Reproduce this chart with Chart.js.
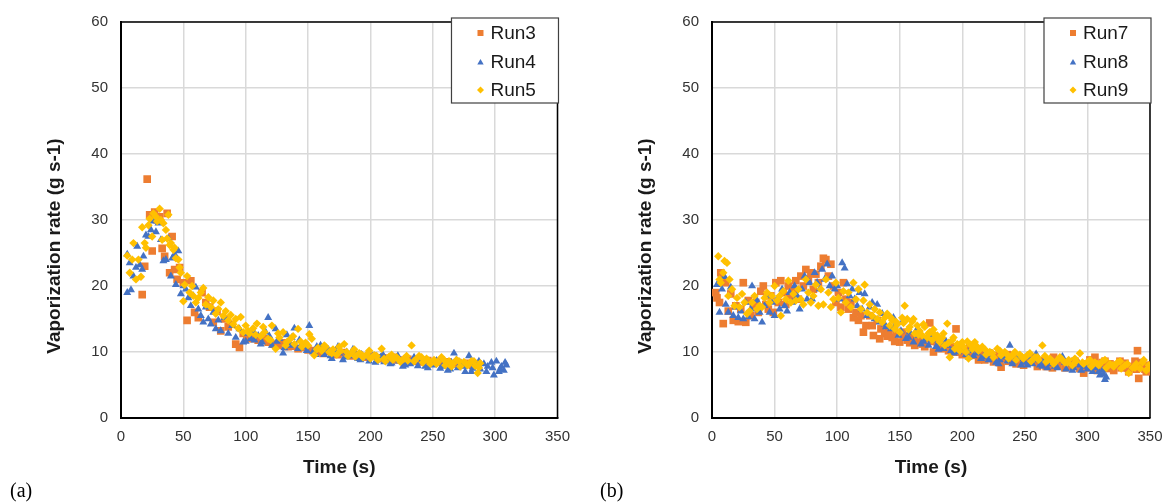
<!DOCTYPE html>
<html>
<head>
<meta charset="utf-8">
<script src="https://cdn.jsdelivr.net/npm/chart.js@4.4.1/dist/chart.umd.min.js"></script>
<style>
  body { margin: 0; background: #fff; }
  #wrap { position: relative; width: 1165px; height: 502px; overflow: hidden; }
  canvas { position: absolute; top: 0; }
  .tag { position: absolute; top: 480px; line-height: 20px; font-family: "Liberation Serif", serif; font-size: 20px; color: #000; }
</style>
</head>
<body>
<div id="wrap">
  <canvas id="chartA" width="580" height="502" style="left:0"></canvas>
  <canvas id="chartB" width="600" height="502" style="left:580px"></canvas>
  <div class="tag" style="left:10px">(a)</div>
  <div class="tag" style="left:600px">(b)</div>
</div>
<script>
// tick labels
var xTickValues = [0, 50, 100, 150, 200, 250, 300, 350];
var yTickValues = [0, 10, 20, 30, 40, 50, 60];
var xTitle = "Time (s)";
var yTitle = "Vaporization rate (g s-1)";

// series names
var namesA = ["Run3", "Run4", "Run5"];
var namesB = ["Run7", "Run8", "Run9"];

// [time (s), rate (g/s)]
var run3 = [[17,18.7],[19,23.0],[21,36.2],[23,30.8],[25,25.3],[27,31.2],[29,30.0],[31,30.5],[33,25.7],[35,24.5],
  [37,31.0],[39,22.0],[41,27.5],[43,22.5],[45,21.0],[47,22.8],[50,20.5],[53,14.8],[56,20.8],[59,16.0],
  [62,15.2],[65,19.0],[68,17.5],[71,16.8],[74,14.5],[77,16.2],[80,13.2],[83,15.0],[86,13.8],[89,14.2],
  [92,11.2],[95,10.7],[98,12.8],[101,12.5],[104,12.0],[107,12.3],[110,11.8],[114,12.0],[118,11.5],[122,11.2],
  [126,11.0],[130,11.4],[134,10.8],[138,10.9],[142,10.5],[146,10.7],[150,10.3],[154,10.2],[158,10.0],[162,9.8],
  [166,10.1],[170,9.7],[174,9.6],[178,9.9],[182,9.5],[186,9.4],[190,9.6],[194,9.3],[198,9.2],[202,9.4],
  [206,9.0],[210,9.1],[214,8.9],[218,9.2],[222,8.8],[226,8.7],[230,8.9],[234,8.6],[238,8.8],[242,8.5],
  [246,8.7],[250,8.4],[254,8.6],[258,8.3],[262,8.5],[266,8.2],[270,8.4],[274,8.1],[278,8.3],[282,8.0],[286,8.2]];

var run4 = [[5,19.0],[5,24.8],[7,23.5],[8,19.4],[10,21.5],[12,22.8],[13,26.0],[15,23.2],[17,22.5],[18,24.5],
  [20,27.7],[22,27.5],[24,28.5],[26,29.8],[28,28.2],[30,29.5],[32,27.0],[34,23.8],[36,24.0],[38,27.2],
  [40,21.5],[41,24.2],[43,24.8],[44,20.2],[46,25.3],[48,18.8],[50,20.0],[52,19.5],[54,18.2],[56,17.0],
  [58,18.5],[60,19.8],[62,16.5],[64,15.5],[66,14.5],[68,16.8],[70,15.0],[72,14.2],[74,16.0],[76,13.5],
  [78,14.8],[80,13.2],[83,15.2],[86,12.8],[89,14.0],[92,12.2],[95,13.5],[98,11.5],[101,12.8],[104,12.0],
  [107,11.8],[110,12.5],[113,11.5],[116,13.0],[118,15.2],[121,11.0],[124,13.5],[127,12.0],[130,9.8],[133,12.6],
  [136,11.0],[139,13.6],[142,10.5],[145,11.2],[148,10.8],[151,14.0],[154,10.0],[157,10.8],[160,11.0],[163,9.6],
  [166,10.4],[169,9.0],[172,10.2],[175,9.8],[178,8.8],[181,10.0],[184,9.4],[187,9.8],[190,9.0],[193,9.6],
  [196,9.2],[199,8.6],[202,9.4],[205,8.8],[208,9.2],[211,8.5],[214,9.0],[217,8.3],[220,8.9],[223,8.6],
  [226,7.8],[229,8.8],[232,8.2],[235,9.2],[238,7.9],[241,8.5],[244,7.8],[247,8.6],[250,8.0],[253,8.7],
  [256,7.5],[259,8.2],[262,7.2],[265,8.4],[267,9.8],[270,7.6],[273,8.2],[276,7.0],[279,9.4],[282,7.5],
  [285,8.0],[288,7.4],[291,8.2],[294,7.8],[297,8.4],[299,6.5],[301,8.6],[303,7.0],[305,7.8],[307,7.2],[309,8.0],
  [100,11.6],[106,13.2],[112,11.2],[119,12.4],[125,11.6],[131,10.6],[137,12.2],[143,11.8],[149,10.2],[156,9.6],
  [162,10.6],[168,9.4],[174,10.8],[180,9.2],[186,10.4],[192,8.8],[198,9.8],[204,8.4],[210,9.6],[216,8.2],
  [222,9.4],[228,8.0],[234,8.6],[240,9.0],[246,7.6],[252,8.4],[258,7.8],[264,7.4],[269,8.8],[275,7.8],
  [281,7.0],[287,8.6],[293,7.0],[298,7.6],[304,7.4],[308,8.4]];

var run5 = [[5,24.6],[7,22.0],[9,24.0],[10,26.5],[12,21.0],[14,24.0],[16,21.4],[17,28.9],[19,26.5],[20,25.8],
  [22,29.2],[23,30.2],[25,27.5],[26,31.0],[28,30.5],[29,29.8],[31,31.7],[32,30.0],[33,27.0],[34,29.5],
  [36,28.5],[37,27.2],[38,30.8],[39,26.2],[40,26.5],[42,25.5],[43,25.8],[44,24.2],[46,24.0],[47,22.8],
  [48,22.0],[50,17.7],[51,20.2],[53,21.5],[55,19.0],[57,20.0],[58,18.5],[60,17.5],[62,18.2],[64,19.0],
  [66,19.7],[68,17.2],[70,18.3],[72,16.8],[74,17.8],[76,15.8],[78,16.5],[80,17.5],[82,15.5],[84,16.2],
  [86,14.8],[88,15.6],[90,14.2],[92,15.0],[94,13.6],[96,15.3],[98,13.0],[100,14.0],[103,12.8],[106,13.6],
  [109,14.3],[112,12.4],[115,13.0],[118,12.0],[121,14.0],[124,10.5],[127,12.2],[130,13.0],[133,11.5],[136,12.0],
  [139,11.2],[142,13.5],[145,10.8],[148,11.4],[151,12.7],[153,12.0],[155,9.5],[158,10.6],[161,10.2],[164,10.8],
  [167,10.0],[170,10.4],[173,9.6],[176,10.2],[179,11.2],[182,9.4],[185,9.9],[188,9.3],[191,9.8],[194,9.2],
  [197,9.6],[200,9.0],[203,9.5],[206,8.8],[209,10.5],[212,8.6],[215,9.3],[218,8.8],[221,9.2],[224,8.5],
  [227,9.0],[230,8.7],[233,11.0],[236,8.8],[239,9.4],[242,8.4],[245,9.0],[248,8.2],[251,8.8],[254,8.5],
  [257,9.2],[260,8.0],[263,8.6],[266,8.2],[269,8.8],[272,7.8],[275,8.5],[278,8.0],[281,8.6],[284,7.9],[286,6.8],[288,8.3],
  [102,13.2],[108,12.6],[114,13.8],[120,11.8],[126,12.8],[132,11.0],[138,12.4],[144,11.6],[150,11.0],[157,10.4],
  [163,11.0],[169,9.8],[175,10.8],[181,10.0],[187,10.4],[193,9.6],[199,10.2],[205,9.4],[211,9.0],[217,9.6],
  [223,8.8],[229,9.4],[235,8.6],[241,9.2],[247,8.6],[253,8.2],[259,8.8],[265,7.8],[271,8.6],[277,8.2],
  [283,8.6],[287,7.6]];

var run7 = [[3,19.0],[4,18.2],[6,17.5],[7,22.0],[8,21.5],[9,14.3],[11,20.5],[13,16.2],[15,18.8],[17,14.8],
  [19,17.0],[21,14.6],[23,16.5],[25,20.5],[27,14.5],[29,17.8],[31,15.5],[33,16.8],[35,17.5],[37,16.0],
  [39,19.2],[41,20.0],[43,17.2],[45,16.5],[47,18.5],[49,16.0],[51,20.5],[53,17.5],[55,20.8],[57,19.0],
  [59,17.2],[61,20.0],[63,18.5],[65,19.5],[67,20.8],[69,18.0],[71,21.5],[73,20.0],[75,22.5],[77,21.0],
  [79,22.0],[81,19.5],[83,21.8],[85,20.5],[87,23.0],[89,24.2],[91,24.0],[93,21.5],[95,23.3],[97,20.0],
  [99,17.5],[101,19.0],[103,16.8],[105,20.5],[107,18.0],[109,16.5],[111,17.5],[113,15.2],[115,16.0],[117,14.8],
  [119,15.5],[121,13.0],[123,14.0],[126,15.5],[129,12.5],[132,14.8],[135,13.5],[138,12.8],[141,13.2],[144,12.2],
  [147,12.8],[150,11.5],[153,12.5],[156,11.8],[159,12.2],[162,11.0],[165,11.8],[168,11.2],[171,12.0],[174,14.4],
  [177,10.0],[180,11.5],[183,10.5],[186,11.0],[189,10.2],[192,10.8],[195,13.5],[198,10.0],[201,10.5],[204,9.8],
  [207,10.2],[210,9.5],[213,8.8],[216,10.0],[219,9.3],[222,9.8],[225,8.5],[228,9.5],[231,7.7],[234,9.0],
  [237,8.6],[240,9.4],[243,8.2],[246,9.0],[249,8.0],[252,8.8],[255,8.5],[258,9.0],[261,8.2],[264,8.7],
  [267,7.8],[270,8.5],[273,9.2],[276,8.0],[279,8.6],[282,7.6],[285,8.4],[288,7.8],[291,8.3],[294,7.5],
  [297,6.8],[300,8.2],[303,7.6],[306,9.2],[309,7.8],[312,8.4],[315,7.5],[318,8.2],[321,7.2],[324,8.0],
  [327,7.6],[330,8.3],[333,7.0],[336,7.8],[339,7.4],[340,10.2],[341,6.0],[344,7.8],[347,7.0],[349,8.0],
  [128,14.0],[134,12.0],[140,12.4],[146,11.6],[152,13.0],[158,11.4],[164,12.4],[170,10.8],[176,11.6],[182,12.0],
  [188,10.6],[194,10.0],[200,9.6],[206,10.8],[212,9.6],[218,8.8],[224,9.0],[230,8.4],[236,9.6],[242,8.8],
  [248,8.4],[254,9.2],[260,7.8],[266,8.2],[272,7.6],[278,8.8],[284,7.8],[290,8.6],[296,7.8],[302,8.8],
  [308,7.2],[314,8.6],[320,7.8],[326,8.6],[332,7.6],[338,8.6],[343,8.4],[346,7.4],[350,7.8]];

var run8 = [[4,20.2],[6,16.0],[8,19.5],[10,21.4],[11,17.2],[13,16.0],[15,19.8],[17,15.5],[19,16.8],[21,15.2],
  [23,16.2],[25,15.0],[27,17.5],[29,15.3],[31,16.5],[32,20.0],[34,15.0],[36,17.8],[38,16.0],[40,14.5],
  [42,17.0],[44,18.5],[46,16.0],[48,17.5],[50,15.5],[52,18.0],[54,16.5],[56,19.5],[58,17.0],[60,16.2],
  [62,19.0],[64,17.5],[66,20.0],[68,18.5],[70,16.5],[72,19.5],[74,21.5],[76,18.0],[78,20.5],[80,18.0],
  [82,22.0],[84,20.5],[86,19.5],[88,22.5],[90,21.0],[92,23.3],[94,20.0],[96,21.5],[98,19.5],[100,20.0],
  [102,18.0],[104,23.5],[106,22.7],[108,20.3],[110,18.5],[112,19.5],[114,18.0],[116,17.0],[118,19.0],[120,16.5],
  [122,18.8],[124,15.5],[126,16.8],[128,17.5],[130,15.0],[132,17.2],[134,14.5],[136,15.8],[138,14.2],[140,15.5],
  [143,13.5],[146,14.0],[149,12.5],[152,14.5],[155,12.0],[158,13.0],[161,11.5],[164,12.5],[167,11.2],[170,12.0],
  [173,11.0],[176,11.8],[179,10.8],[182,11.4],[185,10.5],[188,11.0],[191,10.2],[194,10.6],[197,10.0],[200,10.4],
  [203,9.6],[206,10.2],[209,9.4],[212,9.8],[215,9.0],[218,9.6],[221,8.8],[224,9.4],[227,8.4],[230,8.8],
  [233,9.2],[236,8.6],[238,11.0],[241,8.5],[244,9.0],[247,8.0],[250,8.4],[253,9.2],[256,8.2],[259,9.7],
  [262,8.0],[265,8.6],[268,7.6],[271,8.2],[274,7.8],[277,8.8],[280,9.3],[283,7.4],[286,8.2],[289,7.6],
  [292,8.4],[295,7.2],[298,7.8],[301,8.0],[304,7.0],[307,7.6],[310,6.5],[312,7.2],[314,5.8],[315,6.2],
  [139,13.8],[145,15.2],[151,13.2],[157,12.2],[163,13.2],[169,11.6],[175,12.6],[181,10.4],[187,11.6],[193,9.8],
  [199,10.8],[205,9.2],[211,10.4],[217,9.2],[223,9.8],[229,8.2],[235,9.6],[240,8.2],[246,9.2],[252,8.0],
  [258,8.8],[264,7.8],[270,8.8],[276,7.6],[282,8.4],[288,7.2],[294,8.0],[300,7.4],[306,8.2],[309,7.0],[313,6.6]];

var run9 = [[5,24.5],[6,21.0],[7,20.5],[9,22.0],[10,23.8],[12,23.5],[13,18.5],[14,21.0],[16,19.5],[18,17.0],
  [20,18.2],[22,16.8],[24,18.8],[26,17.5],[28,15.8],[30,16.2],[32,17.5],[34,18.5],[36,16.5],[38,17.0],
  [40,16.8],[42,18.2],[44,19.0],[46,17.5],[48,18.5],[50,20.0],[52,17.8],[54,18.5],[55,15.5],[57,19.2],
  [59,18.0],[61,20.8],[63,17.5],[65,18.8],[67,17.8],[69,19.5],[71,18.0],[73,17.2],[75,21.0],[77,19.0],
  [79,17.5],[81,18.5],[83,20.2],[85,17.0],[87,19.5],[89,17.2],[91,21.0],[93,19.0],[95,16.8],[97,18.0],
  [99,20.5],[101,18.2],[103,16.0],[105,19.2],[107,17.5],[109,19.0],[111,16.8],[113,20.5],[115,18.0],[117,19.5],
  [119,16.5],[121,17.8],[122,20.2],[124,16.0],[126,17.2],[128,15.5],[130,16.5],[132,15.0],[134,16.0],[136,14.5],
  [138,15.2],[140,15.8],[142,14.0],[144,14.8],[146,13.5],[148,14.2],[150,13.0],[152,15.2],[154,17.0],[156,15.0],
  [158,13.8],[160,14.6],[162,12.8],[164,14.0],[166,13.2],[168,12.5],[170,13.8],[172,12.2],[174,13.0],[176,11.8],
  [178,12.6],[180,12.5],[182,11.5],[184,12.2],[186,11.0],[188,14.3],[190,9.2],[192,11.8],[194,10.5],[196,11.2],
  [198,10.2],[200,11.5],[203,10.0],[205,9.0],[207,11.0],[210,11.5],[213,10.2],[216,10.8],[219,9.6],[222,10.0],
  [225,9.2],[228,10.5],[231,9.5],[234,10.0],[237,9.0],[240,9.5],[243,8.8],[246,9.6],[249,9.0],[252,9.5],
  [255,8.6],[258,9.2],[261,8.8],[264,11.0],[267,8.5],[270,9.0],[273,8.2],[276,8.8],[279,9.0],[282,8.4],
  [285,8.8],[288,8.0],[291,8.6],[294,9.8],[297,8.2],[300,8.5],[303,7.8],[306,8.4],[309,8.0],[312,8.6],
  [315,7.6],[318,8.2],[321,7.8],[324,8.4],[327,7.5],[330,8.0],[333,6.8],[336,7.6],[339,8.2],[342,7.5],
  [345,8.8],[347,7.2],[349,8.0],
  [143,15.2],[147,14.6],[153,14.4],[157,13.4],[161,15.0],[165,12.6],[169,14.2],[173,12.8],[177,13.4],[181,12.0],
  [185,12.8],[189,11.4],[193,12.2],[197,11.0],[201,10.8],[204,11.6],[208,10.4],[212,10.8],[218,10.4],[224,9.8],
  [230,10.2],[236,9.6],[242,10.0],[248,9.2],[254,9.8],[260,9.2],[266,9.4],[272,8.6],[278,9.2],[284,8.4],
  [290,9.0],[296,8.4],[302,8.8],[308,8.2],[314,8.8],[320,8.0],[326,8.6],[332,8.2],[338,7.6],[344,8.4],[348,7.4]];

var FONT = "'Liberation Sans', Arial, sans-serif";
var markerStyles = [
  { color: "#ED7D31", shape: "rect", r: 5.4 },
  { color: "#4472C4", shape: "triangle", r: 4.6 },
  { color: "#FFC000", shape: "rectRot", r: 4.2 }
];

// top/right edge of plot box
var framePlugin = {
  id: "frame",
  beforeDatasetsDraw: function (chart) {
    var a = chart.chartArea, ctx = chart.ctx;
    ctx.save();
    ctx.strokeStyle = "#000";
    ctx.lineWidth = 1.5;
    ctx.beginPath();
    ctx.moveTo(a.left, a.top);
    ctx.lineTo(a.right, a.top);
    ctx.lineTo(a.right, a.bottom);
    ctx.stroke();
    // y axis title, sits a bit below the plot centre in the original
    ctx.translate(a.left - 66, 246);
    ctx.rotate(-Math.PI / 2);
    ctx.fillStyle = "#1a1a1a";
    ctx.font = "bold 19px " + FONT;
    ctx.textAlign = "center";
    ctx.textBaseline = "middle";
    ctx.fillText(yTitle, 0, 0);
    ctx.restore();
  }
};

// boxed legend in the top right corner
var legendPlugin = {
  id: "boxLegend",
  afterDraw: function (chart) {
    var a = chart.chartArea, ctx = chart.ctx;
    var w = 107, h = 85;
    var x0 = a.right + 1 - w, y0 = 18;
    ctx.save();
    ctx.fillStyle = "#fff";
    ctx.fillRect(x0, y0, w, h);
    ctx.strokeStyle = "#404040";
    ctx.lineWidth = 1.2;
    ctx.strokeRect(x0, y0, w, h);
    var rows = [15, 44, 72];
    chart.data.datasets.forEach(function (ds, i) {
      var cx = x0 + 29, cy = y0 + rows[i];
      ctx.fillStyle = markerStyles[i].color;
      ctx.beginPath();
      if (i === 0) {
        ctx.rect(cx - 3, cy - 3, 6, 6);
      } else if (i === 1) {
        ctx.moveTo(cx, cy - 3);
        ctx.lineTo(cx + 3.2, cy + 2.5);
        ctx.lineTo(cx - 3.2, cy + 2.5);
      } else {
        ctx.moveTo(cx, cy - 3.5);
        ctx.lineTo(cx + 3.5, cy);
        ctx.lineTo(cx, cy + 3.5);
        ctx.lineTo(cx - 3.5, cy);
      }
      ctx.closePath();
      ctx.fill();
      ctx.fillStyle = "#1a1a1a";
      ctx.font = "19px " + FONT;
      ctx.textAlign = "left";
      ctx.textBaseline = "middle";
      ctx.fillText(ds.label, x0 + 39, cy + 1);
    });
    ctx.restore();
  }
};

function makePanel(id, names, series, plotLeft, plotRight, width) {
  var datasets = series.map(function (pts, i) {
    var st = markerStyles[i];
    return {
      label: names[i],
      data: pts.map(function (p) { return { x: p[0], y: p[1] }; }),
      pointStyle: st.shape,
      pointRadius: st.r,
      pointHoverRadius: st.r,
      pointBackgroundColor: st.color,
      pointBorderColor: st.color,
      pointBorderWidth: 0,
      showLine: false,
      order: series.length - 1 - i
    };
  });

  return new Chart(document.getElementById(id), {
    type: "scatter",
    data: { datasets: datasets },
    options: {
      responsive: false,
      animation: false,
      layout: { padding: { left: 0, top: 20, right: width - plotRight, bottom: 0 } },
      plugins: { legend: { display: false }, tooltip: { enabled: false } },
      scales: {
        x: {
          type: "linear",
          min: 0,
          max: 350,
          afterBuildTicks: function (s) { s.ticks = xTickValues.map(function (v) { return { value: v }; }); },
          afterFit: function (s) { s.height = 84; },
          grid: { color: "#d9d9d9", lineWidth: 1.5, drawTicks: false },
          border: { color: "#000", width: 2 },
          ticks: { font: { family: FONT, size: 15 }, color: "#333", padding: 10, maxRotation: 0, autoSkip: false },
          title: {
            display: true,
            text: xTitle,
            color: "#1a1a1a",
            font: { family: FONT, size: 19, weight: "bold", lineHeight: 1.2 },
            padding: { top: 0, bottom: 23 }
          }
        },
        y: {
          type: "linear",
          min: 0,
          max: 60,
          afterBuildTicks: function (s) { s.ticks = yTickValues.map(function (v) { return { value: v }; }); },
          afterFit: function (s) { s.width = plotLeft; },
          grid: { color: "#d9d9d9", lineWidth: 1.5, drawTicks: false },
          border: { color: "#000", width: 2 },
          ticks: { font: { family: FONT, size: 15 }, color: "#333", padding: 13 }
        }
      }
    },
    plugins: [framePlugin, legendPlugin]
  });
}

makePanel("chartA", namesA, [run3, run4, run5], 121, 558, 580);
makePanel("chartB", namesB, [run7, run8, run9], 132, 570, 600);
</script>
</body>
</html>
